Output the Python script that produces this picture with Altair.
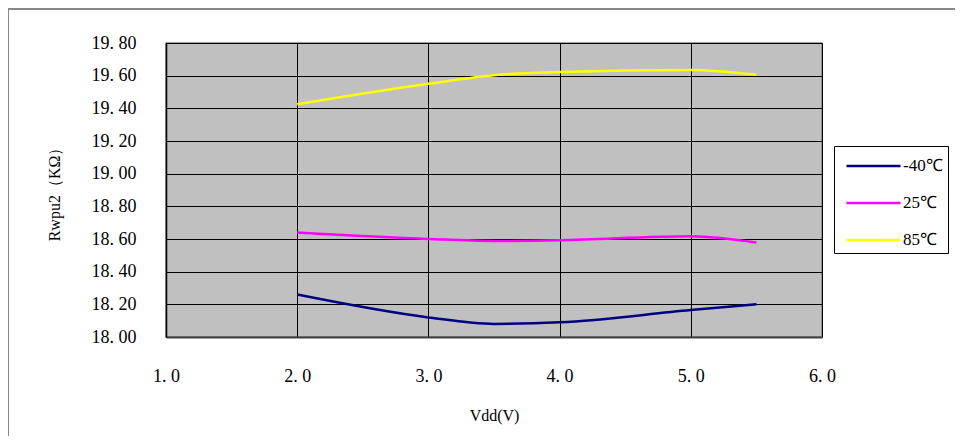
import altair as alt
import pandas as pd

vdd = [2.0, 3.0, 3.5, 4.0, 5.0, 5.5]
r_m40 = [18.26, 18.12, 18.08, 18.09, 18.165, 18.20]
r_25 = [18.64, 18.60, 18.588, 18.592, 18.617, 18.578]
r_85 = [19.425, 19.55, 19.603, 19.623, 19.635, 19.606]
series = ["-40℃", "25℃", "85℃"]
colors = ["#000080", "#FF00FF", "#FFFF00"]
x_ticks = [1, 2, 3, 4, 5, 6]
y_ticks = [18.0, 18.2, 18.4, 18.6, 18.8, 19.0, 19.2, 19.4, 19.6, 19.8]

rows = []
for name, vals in zip(series, [r_m40, r_25, r_85]):
    for x, y in zip(vdd, vals):
        rows.append({"Vdd": x, "R": y, "T": name})
df = pd.DataFrame(rows)

FONT = "Liberation Serif"

lines = alt.Chart(df).mark_line(strokeWidth=2.5, interpolate="monotone").encode(
    x=alt.X("Vdd:Q",
            scale=alt.Scale(domain=[1, 6], nice=False, zero=False),
            axis=alt.Axis(values=x_ticks, labelExpr="replace(format(datum.value, '.1f'), '.', '. ')",
                          title="Vdd(V)", grid=True, gridColor="#000000", gridWidth=1,
                          ticks=False, domainColor="#404040", domainWidth=2,
                          labelPadding=30, titlePadding=22, labelFlush=False)),
    y=alt.Y("R:Q",
            scale=alt.Scale(domain=[18.0, 19.8], nice=False, zero=False),
            axis=alt.Axis(values=y_ticks, labelExpr="replace(format(datum.value, '.2f'), '.', '. ')",
                          title="Rwpu2（KΩ）", grid=True, gridColor="#000000", gridWidth=1,
                          ticks=False, domainColor="#000000", domainWidth=1.5,
                          labelPadding=30, titlePadding=29)),
    color=alt.Color("T:N", scale=alt.Scale(domain=series, range=colors),
                    legend=alt.Legend(title=None, orient="none", legendX=668, legendY=103,
                                      symbolType="M-2,0H2", symbolSize=729, symbolStrokeWidth=2.5,
                                      symbolOffset=19.5,
                                      strokeColor="#000000", padding=5, rowPadding=14,
                                      labelFont=FONT, labelFontSize=17, labelColor="#000000",
                                      labelOffset=14.5)),
)

frame_left = alt.Chart(df).mark_rule(color="#888888", strokeWidth=2).encode(
    x=alt.value(-158), y=alt.value(-34), y2=alt.value(400))
frame_top = alt.Chart(df).mark_rule(color="#888888", strokeWidth=2).encode(
    x=alt.value(-158), x2=alt.value(800), y=alt.value(-34))

chart = alt.layer(lines, frame_left, frame_top).properties(
    width=656, height=294,
    autosize=alt.AutoSizeParams(type="none"),
    padding={"left": 158, "top": 35, "right": 133, "bottom": 99},
    background="#FFFFFF",
).configure_view(
    fill="#C0C0C0", stroke="#808080", strokeWidth=1.5,
).configure_axis(
    labelFont=FONT, labelFontSize=18, labelColor="#000000",
    titleFont=FONT, titleFontSize=16, titleFontWeight="normal", titleColor="#000000",
)

chart.save("out.html", embed_options={"renderer": "svg", "actions": False})
